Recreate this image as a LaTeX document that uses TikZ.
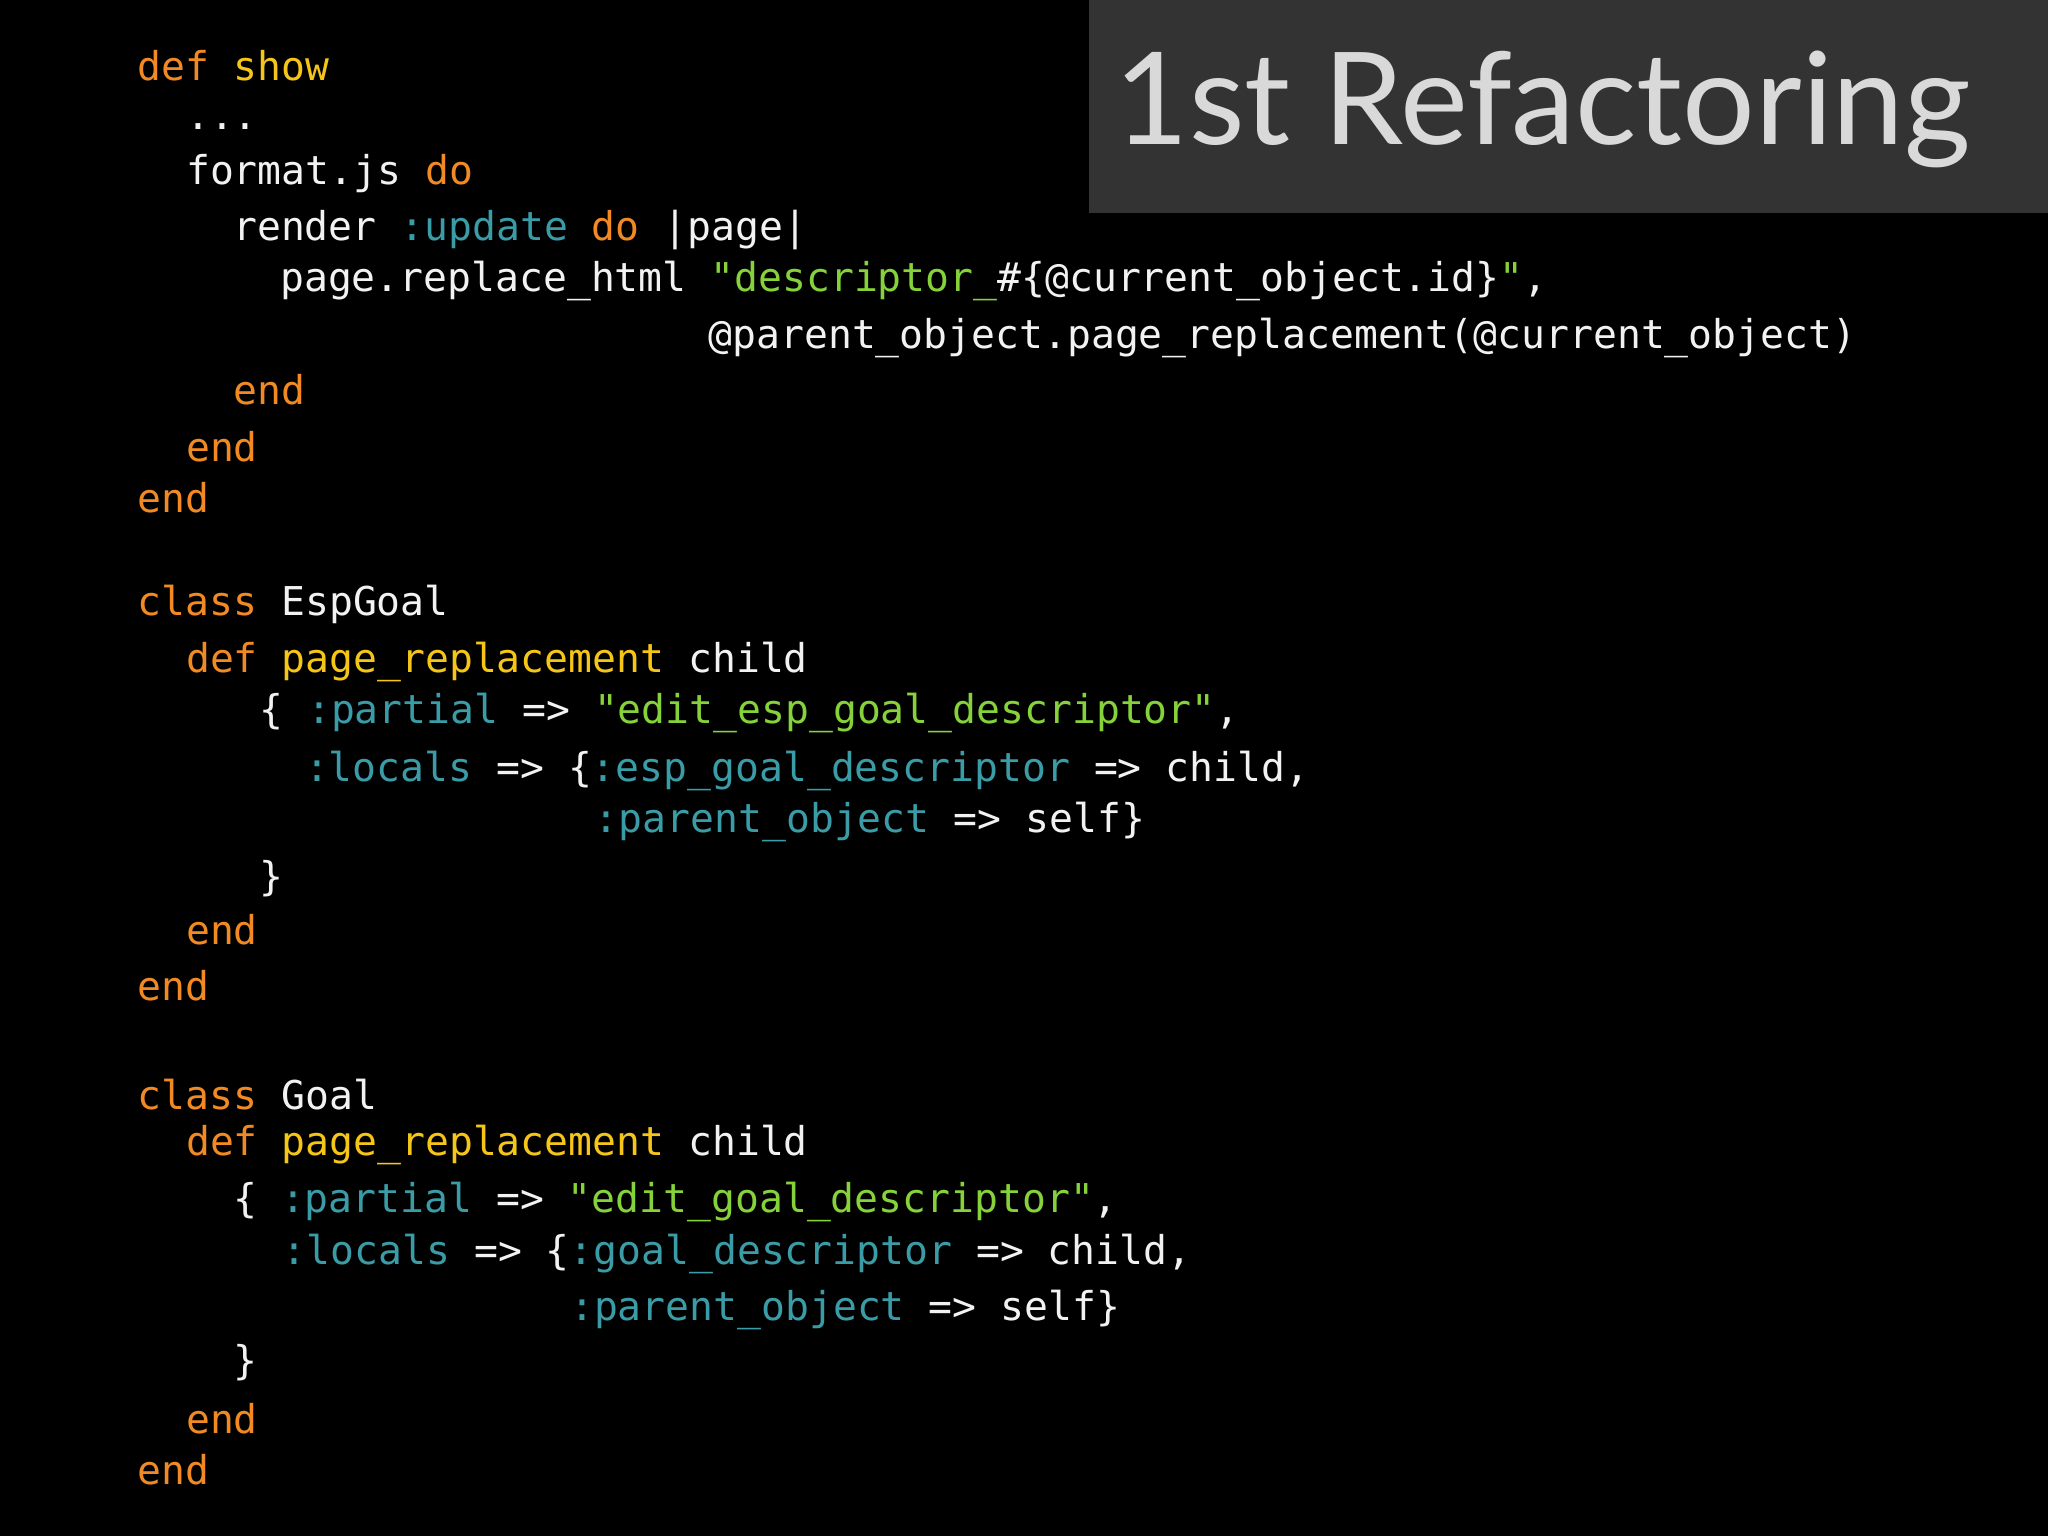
\documentclass[tikz,border=0pt]{standalone}
\usepackage{fontspec}
\setmonofont{DejaVu Sans Mono}
\newfontfamily\titlefont{Lato}
\definecolor{kwc}{HTML}{F28A24}
\definecolor{fnc}{HTML}{F5C518}
\definecolor{syc}{HTML}{3A9CA6}
\definecolor{stc}{HTML}{86D23A}
\definecolor{txc}{HTML}{F2F2F2}
\newcommand\kw[1]{\textcolor{kwc}{#1}}
\newcommand\fn[1]{\textcolor{fnc}{#1}}
\newcommand\sy[1]{\textcolor{syc}{#1}}
\newcommand\sr[1]{\textcolor{stc}{#1}}
\tikzset{code/.style={anchor=west,inner sep=0pt,text=txc,font=\ttfamily\fontsize{11.3}{12}\selectfont}}
\begin{document}
\begin{tikzpicture}[x=0.01306cm,y=-0.01306cm]
\useasboundingbox (0,0) rectangle (1568,1176);
\fill[black] (0,0) rectangle (1568,1176);
\fill[fill=black!80!white] (834,0) rectangle (1568,163);
\node[anchor=west,inner sep=0pt,text=black!15!white,font=\titlefont\fontsize{36.5}{40}\selectfont] (title) at (853,84) {1st Refactoring};
\node[code] (l1) at (105,50) {\kw{def} \fn{show}};
\node[code] (l2) at (142,97) {...};
\node[code] (l3) at (142,133) {format.js \kw{do}};
\node[code] (l4) at (178,176) {render \sy{:update} \kw{do} \textbar page\textbar};
\node[code] (l5) at (214,215) {page.replace\_html \sr{"descriptor\_}\#\{@current\_object.id\}\sr{"},};
\node[code] (l6) at (542,259) {@parent\_object.page\_replacement(@current\_object)};
\node[code] (l7) at (178,298) {\kw{end}};
\node[code] (l8) at (142,342) {\kw{end}};
\node[code] (l9) at (105,381) {\kw{end}};
\node[code] (m1) at (105,463) {\kw{class} EspGoal};
\node[code] (m2) at (142,507) {\kw{def} \fn{page\_replacement} child};
\node[code] (m3) at (198,546) {\{ \sy{:partial} => \sr{"edit\_esp\_goal\_descriptor"},};
\node[code] (m4) at (233,590) {\sy{:locals} => \{\sy{:esp\_goal\_descriptor} => child,};
\node[code] (m5) at (455,629) {\sy{:parent\_object} => self\}};
\node[code] (m6) at (198,673) {\}};
\node[code] (m7) at (142,712) {\kw{end}};
\node[code] (m8) at (105,755) {\kw{end}};
\node[code] (n1) at (105,838) {\kw{class} Goal};
\node[code] (n2) at (142,877) {\kw{def} \fn{page\_replacement} child};
\node[code] (n3) at (178,920) {\{ \sy{:partial} => \sr{"edit\_goal\_descriptor"},};
\node[code] (n4) at (216,960) {\sy{:locals} => \{\sy{:goal\_descriptor} => child,};
\node[code] (n5) at (436,1003) {\sy{:parent\_object} => self\}};
\node[code] (n6) at (178,1043) {\}};
\node[code] (n7) at (142,1086) {\kw{end}};
\node[code] (n8) at (105,1125) {\kw{end}};
\end{tikzpicture}
\end{document}
